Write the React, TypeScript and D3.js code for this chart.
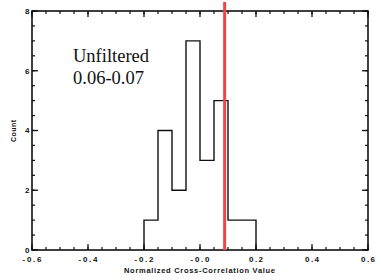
import React from "react";
import * as d3 from "d3";

const binEdges = [-0.2, -0.15, -0.1, -0.05, 0.0, 0.05, 0.1, 0.15, 0.2];
const counts = [1, 4, 2, 7, 3, 5, 1, 1];
const xTicks = [-0.6, -0.4, -0.2, 0.0, 0.2, 0.4, 0.6];
const xTickLabels = ["-0.6", "-0.4", "-0.2", "-0.0", "0.2", "0.4", "0.6"];
const yTicks = [0, 2, 4, 6, 8];
const markerValue = 0.088;
const annotation = ["Unfiltered", "0.06-0.07"];
const xTitle = "Normalized Cross-Correlation Value";
const yTitle = "Count";

export default function App() {
  const W = 382, H = 280;
  const left = 32, right = 368, top = 11, bottom = 250;
  const x = d3.scaleLinear().domain([-0.6, 0.6]).range([left, right]);
  const y = d3.scaleLinear().domain([0, 8]).range([bottom, top]);

  // step outline
  const pts: [number, number][] = [];
  pts.push([binEdges[0], 0]);
  counts.forEach((c, i) => {
    pts.push([binEdges[i], c]);
    pts.push([binEdges[i + 1], c]);
  });
  pts.push([binEdges[binEdges.length - 1], 0]);
  const line = d3.line<[number, number]>().x((d) => x(d[0])).y((d) => y(d[1]));

  const xMinor = d3.range(-0.6, 0.6001, 0.05);
  const yMinor = d3.range(0, 8.001, 0.5);
  const tickFont = "Arial, 'Liberation Sans', sans-serif";

  return (
    <svg width={W} height={H} style={{ position: "absolute", left: 0, top: 0, background: "#fff" }}>
      <rect x={0} y={0} width={W} height={H} fill="#fff" />
      {xMinor.map((v, i) => (
        <g key={"xm" + i} stroke="#111" strokeWidth={1.2}>
          <line x1={x(v)} x2={x(v)} y1={bottom} y2={bottom - 3} />
          <line x1={x(v)} x2={x(v)} y1={top} y2={top + 3} />
        </g>
      ))}
      {xTicks.map((v, i) => (
        <g key={"xM" + i} stroke="#111" strokeWidth={1.3}>
          <line x1={x(v)} x2={x(v)} y1={bottom} y2={bottom - 6} />
          <line x1={x(v)} x2={x(v)} y1={top} y2={top + 6} />
        </g>
      ))}
      {yMinor.map((v, i) => (
        <g key={"ym" + i} stroke="#111" strokeWidth={1.2}>
          <line x1={left} x2={left + 3} y1={y(v)} y2={y(v)} />
          <line x1={right} x2={right - 3} y1={y(v)} y2={y(v)} />
        </g>
      ))}
      {yTicks.map((v, i) => (
        <g key={"yM" + i} stroke="#111" strokeWidth={1.3}>
          <line x1={left} x2={left + 6} y1={y(v)} y2={y(v)} />
          <line x1={right} x2={right - 6} y1={y(v)} y2={y(v)} />
        </g>
      ))}
      <rect x={left} y={top} width={right - left} height={bottom - top} fill="none" stroke="#111" strokeWidth={1.6} />
      <path d={line(pts) || ""} fill="none" stroke="#111" strokeWidth={1.4} />
      <line x1={x(markerValue)} x2={x(markerValue)} y1={2} y2={bottom} stroke="#f04545" strokeWidth={3} />
      {xTicks.map((v, i) => (
        <text key={"xl" + i} x={x(v)} y={262} textAnchor="middle" fontFamily={tickFont} fontWeight="bold" fontSize={8} textLength={xTickLabels[i].length === 4 ? 19 : 14} lengthAdjust="spacing" fill="#111">
          {xTickLabels[i]}
        </text>
      ))}
      {yTicks.map((v, i) => (
        <text key={"yl" + i} x={29.5} y={y(v) + 2.8} textAnchor="end" fontFamily={tickFont} fontWeight="bold" fontSize={8} fill="#111">
          {String(v)}
        </text>
      ))}
      <text x={(124 + 275) / 2} y={273} textAnchor="middle" fontFamily={tickFont} fontWeight="bold" fontSize={7.5} textLength={151} lengthAdjust="spacing" fill="#111">
        {xTitle}
      </text>
      <text transform={`translate(15.5,${131}) rotate(-90)`} textAnchor="middle" fontFamily={tickFont} fontWeight="bold" fontSize={7} textLength={22} lengthAdjust="spacing" fill="#111">
        {yTitle}
      </text>
      <text x={73} y={62} fontFamily="'Liberation Serif', 'Times New Roman', serif" fontSize={18.5} fill="#111">{annotation[0]}</text>
      <text x={73} y={84} fontFamily="'Liberation Serif', 'Times New Roman', serif" fontSize={18.5} fill="#111">{annotation[1]}</text>
    </svg>
  );
}
